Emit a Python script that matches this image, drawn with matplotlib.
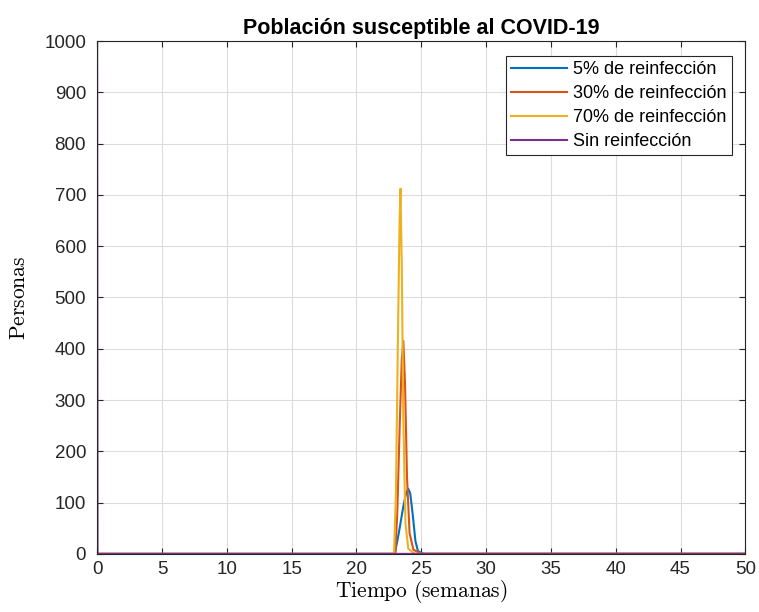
import matplotlib
matplotlib.use("Agg")
import matplotlib.pyplot as plt

# datos
t_5 = [0, 22.9, 23.0, 23.3, 23.6, 23.8, 24.0, 24.15, 24.35, 24.55, 24.75, 25.2, 30, 50]
y_5 = [0, 0, 5, 45, 90, 115, 127, 118, 75, 25, 5, 0.2, 0.2, 0.2]
t_30 = [0, 23.0, 23.15, 23.35, 23.5, 23.62, 23.75, 23.9, 24.1, 24.4, 25.0, 50]
y_30 = [0, 0, 80, 260, 380, 415, 330, 150, 40, 8, 0.2, 0.2]
t_70 = [0, 22.9, 23.05, 23.2, 23.33, 23.4, 23.5, 23.62, 23.78, 24.0, 24.5, 50]
y_70 = [0, 0, 120, 420, 650, 712, 560, 260, 60, 10, 0.2, 0.2]
t_sin = [0, 0.03, 50]
y_sin = [1000, 0, 0]

labels = ["5% de reinfección", "30% de reinfección", "70% de reinfección", "Sin reinfección"]
colors = ["#0072BD", "#D95319", "#EDB120", "#7E2F8E"]

plt.rcParams["font.family"] = ["Liberation Sans", "DejaVu Sans"]
plt.rcParams["mathtext.fontset"] = "cm"

fig = plt.figure(figsize=(7.59, 6.12), dpi=100)
ax = fig.add_axes([0.128, 0.095, 0.854, 0.838])

ax.plot(t_5, y_5, color=colors[0], lw=1.5, label=labels[0])
ax.plot(t_30, y_30, color=colors[1], lw=1.5, label=labels[1])
ax.plot(t_70, y_70, color=colors[2], lw=1.5, label=labels[2])
ax.plot(t_sin, y_sin, color=colors[3], lw=1.5, label=labels[3])

ax.set_xlim(0, 50)
ax.set_ylim(0, 1000)
ax.set_xticks(range(0, 51, 5))
ax.set_yticks(range(0, 1001, 100))
ax.grid(True, color="#dcdcdc", lw=0.8)
ax.set_axisbelow(True)
ax.tick_params(direction="in", labelsize=13.5, length=4, top=True, right=True, colors="#262626")
ax.tick_params(axis="y", pad=8)
ax.tick_params(axis="x", pad=5)
for s in ax.spines.values():
    s.set_color("#262626")
    s.set_linewidth(0.8)

ax.set_title("Población susceptible al COVID-19", fontsize=15.5, fontweight="bold", pad=5)
ax.set_xlabel(r"$\mathrm{Tiempo\ (semanas)}$", fontsize=15.5, labelpad=0)
ax.set_ylabel(r"$\mathrm{Personas}$", fontsize=15.5, labelpad=10)

leg = ax.legend(loc="upper right", fontsize=13, fancybox=False, framealpha=1,
                edgecolor="#262626", handlelength=3.1, borderpad=0.3,
                labelspacing=0.38, handletextpad=0.3, borderaxespad=0,
                bbox_to_anchor=(0.979, 0.971))
leg.get_frame().set_linewidth(0.8)

fig.savefig("out.png", dpi=100)
